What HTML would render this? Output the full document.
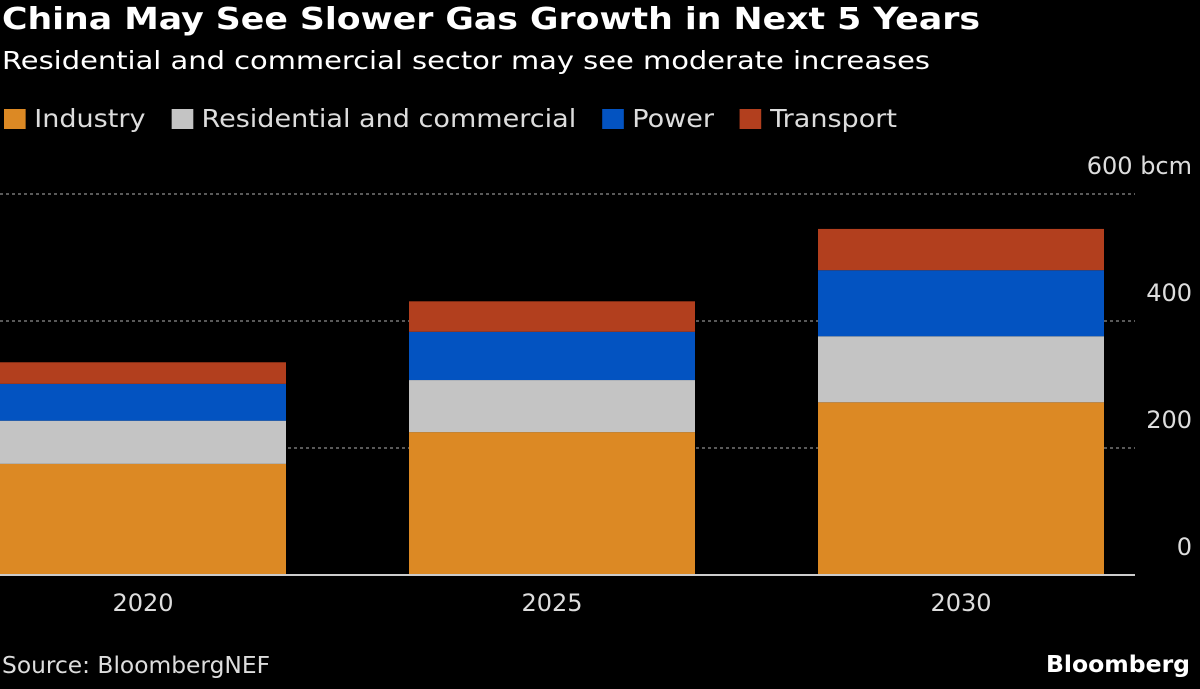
<!DOCTYPE html>
<html><head><meta charset="utf-8"><style>
body{margin:0;background:#000;width:1200px;height:689px;overflow:hidden;font-family:"DejaVu Sans","Liberation Sans",sans-serif;color:#fff}
.t{position:absolute;white-space:nowrap;transform-origin:0 0}
</style></head><body>
<div class="t fit" data-w="978" style="left:2px;top:2px;font-size:30px;font-weight:bold">China May See Slower Gas Growth in Next 5 Years</div>
<div class="t fit" data-w="928" style="left:2px;top:46px;font-size:25px">Residential and commercial sector may see moderate increases</div>
<div class="t fit" data-w="893" style="left:4px;top:104px;font-size:25px;color:#ddd">
<span><span style="display:inline-block;width:20px;height:20px;background:#dc8924;vertical-align:-2px"></span> Industry</span>&nbsp;&nbsp;
<span><span style="display:inline-block;width:20px;height:20px;background:#c4c4c4;vertical-align:-2px"></span> Residential and commercial</span>&nbsp;&nbsp;
<span><span style="display:inline-block;width:20px;height:20px;background:#0353c1;vertical-align:-2px"></span> Power</span>&nbsp;&nbsp;
<span><span style="display:inline-block;width:20px;height:20px;background:#b23f1e;vertical-align:-2px"></span> Transport</span>
</div>
<svg id="c" width="1200" height="689" style="position:absolute;left:0;top:0"></svg>
<div class="t fit" data-w="268" style="left:2px;top:653px;font-size:23px;color:#ddd">Source: BloombergNEF</div>
<div class="t fit" data-w="144" style="left:1046px;top:652px;font-size:23px;font-weight:bold">Bloomberg</div>
<script>
const categories=["2020","2025","2030"];
const industry=[175,225,272];
const residential=[68,82,104];
const power=[58,76,104];
const transport=[34,48,65];
const ticks=[0,200,400,600];
const tickLabels=["0","200","400","600 bcm"];
const series=[industry,residential,power,transport];
const colors=["#dc8924","#c4c4c4","#0353c1","#b23f1e"];
const names=["industry","residential","power","transport"];
const svg=document.getElementById("c");
const NS="http://www.w3.org/2000/svg";
const y=v=>575-v*0.635;
const xc=i=>143+409*i;
const bw=286;
function mk(t,a){const e=document.createElementNS(NS,t);for(const k in a)e.setAttribute(k,a[k]);svg.appendChild(e);return e;}
ticks.forEach((t,i)=>{
 if(t>0){const l=mk("line",{x1:0,x2:1135,y1:y(t),y2:y(t),stroke:"#777","stroke-dasharray":"3,3","stroke-width":1.5});
 
 }
 const tx=mk("text",{x:1192,y:y(t)-20,"text-anchor":"end","font-size":24,fill:"#ddd","font-family":"DejaVu Sans"});
 tx.textContent=tickLabels[i];
 
 
});
categories.forEach((c,i)=>{
 let base=0;
 series.forEach((s,j)=>{
  const r=mk("rect",{x:xc(i)-bw/2,y:y(base+s[i]),width:bw,height:s[i]*0.635,fill:colors[j]});
  
  
  base+=s[i];
 });
 const tx=mk("text",{x:xc(i),y:611,"text-anchor":"middle","font-size":24,fill:"#ddd","font-family":"DejaVu Sans"});
 tx.textContent=c;
 
 
});
const b=mk("line",{x1:0,x2:1135,y1:575,y2:575,stroke:"#ccc","stroke-width":2});


document.querySelectorAll('.fit').forEach(el=>{
 const w=el.getBoundingClientRect().width;
 const target=+el.getAttribute('data-w');
 el.style.transform='scaleX('+(target/w)+')';
});
</script>
</body></html>
